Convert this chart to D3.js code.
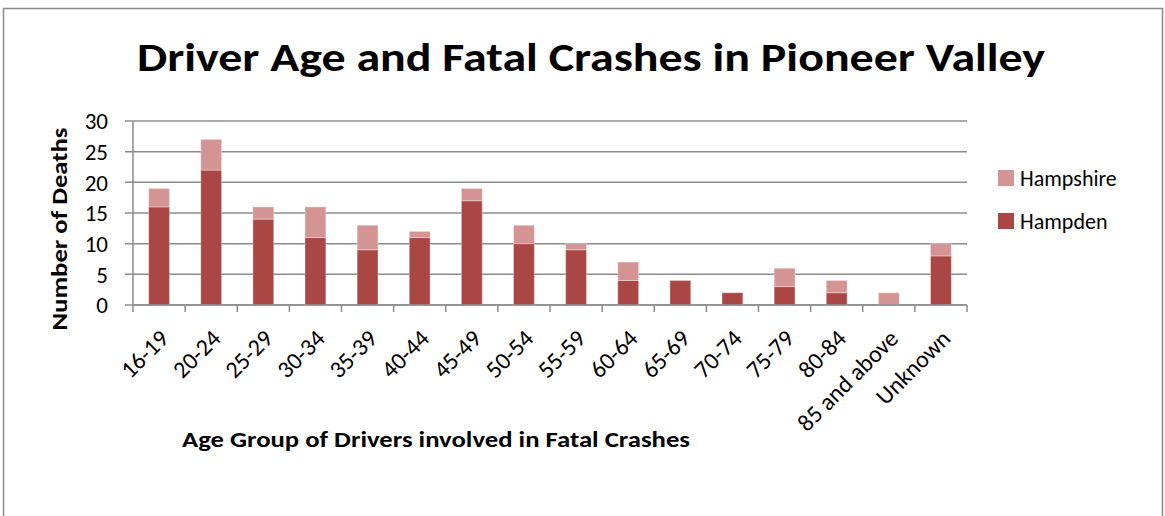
<!DOCTYPE html>
<html>
<head>
<meta charset="utf-8">
<script src="https://cdn.jsdelivr.net/npm/d3@7.9.0/dist/d3.min.js"></script>
<style>
  body { margin: 0; background: #fff; }
  svg text { font-family: Calibri, Carlito, Lato, "Open Sans", sans-serif; fill: #000; }
</style>
</head>
<body>
<svg id="chart" width="1165" height="516"></svg>
<script>
// Age groups and deaths per county
const ageGroups = ["16-19", "20-24", "25-29", "30-34", "35-39", "40-44", "45-49", "50-54",
  "55-59", "60-64", "65-69", "70-74", "75-79", "80-84", "85 and above", "Unknown"];
const hampden   = [16, 22, 14, 11, 9, 11, 17, 10, 9, 4, 4, 2, 3, 2, 0, 8];
const hampshire = [3, 5, 2, 5, 4, 1, 2, 3, 1, 3, 0, 0, 3, 2, 2, 2];
const seriesNames = ["Hampden", "Hampshire"];
const yTicks = [0, 5, 10, 15, 20, 25, 30];

const colors = { Hampden: "#AA4644", Hampshire: "#D49494" };

const svg = d3.select("#chart");

// outer frame
svg.append("rect")
  .attr("x", 3.5).attr("y", 8.5)
  .attr("width", 1159).attr("height", 520)
  .attr("fill", "none").attr("stroke", "#8a8a8a").attr("stroke-width", 1.5);

const plot = { left: 133, right: 967, top: 121, bottom: 305 };

const x = d3.scaleBand()
  .domain(ageGroups)
  .range([plot.left, plot.right])
  .paddingInner(0.6)
  .paddingOuter(0.3);

const y = d3.scaleLinear().domain([0, 30]).range([plot.bottom, plot.top]);

// gridlines
svg.append("g")
  .selectAll("line")
  .data(yTicks)
  .join("line")
  .attr("x1", plot.left - 8).attr("x2", plot.right)
  .attr("y1", d => y(d)).attr("y2", d => y(d))
  .attr("stroke", "#8c8c8c").attr("stroke-width", 1.5);

// stacked data
const rows = ageGroups.map((g, i) => ({ group: g, Hampden: hampden[i], Hampshire: hampshire[i] }));
const stacked = d3.stack().keys(seriesNames)(rows);

svg.append("g")
  .selectAll("g")
  .data(stacked)
  .join("g")
  .attr("fill", d => colors[d.key])
  .selectAll("rect")
  .data(d => d)
  .join("rect")
  .attr("x", d => x(d.data.group))
  .attr("width", x.bandwidth())
  .attr("y", d => y(d[1]))
  .attr("height", d => y(d[0]) - y(d[1]))
  .attr("stroke", "#ffffff").attr("stroke-opacity", 0.35).attr("stroke-width", 1);

// y axis line
svg.append("line")
  .attr("x1", plot.left).attr("x2", plot.left)
  .attr("y1", plot.top).attr("y2", plot.bottom)
  .attr("stroke", "#8c8c8c").attr("stroke-width", 1.5);

// x axis
const xAxis = d3.axisBottom(x).tickSize(0).tickFormat("");
svg.append("g")
  .attr("transform", `translate(0,${plot.bottom})`)
  .call(xAxis)
  .call(g => g.select(".domain").attr("stroke", "#8c8c8c").attr("stroke-width", 1.5)
    .attr("d", `M${plot.left},0H${plot.right}`));

// x tick marks at band boundaries
const step = x.step();
const boundaries = d3.range(ageGroups.length + 1).map(i => plot.left + i * step);
svg.append("g")
  .selectAll("line")
  .data(boundaries)
  .join("line")
  .attr("x1", d => d).attr("x2", d => d)
  .attr("y1", plot.bottom).attr("y2", plot.bottom + 7)
  .attr("stroke", "#8c8c8c").attr("stroke-width", 1.5);

// y tick labels
svg.append("g")
  .selectAll("text")
  .data(yTicks)
  .join("text")
  .attr("x", 108).attr("y", d => y(d))
  .attr("dy", "0.36em")
  .attr("text-anchor", "end")
  .attr("font-size", 23)
  .text(d => d);

// x tick labels
svg.append("g")
  .selectAll("text")
  .data(ageGroups)
  .join("text")
  .attr("transform", d => `translate(${x(d) + x.bandwidth() / 2 + 11},${plot.bottom + 35}) rotate(-45)`)
  .attr("text-anchor", "end")
  .attr("font-size", 24)
  .text(d => d);

// title
svg.append("text")
  .attr("x", 591).attr("y", 71)
  .attr("text-anchor", "middle")
  .attr("font-size", 41).attr("font-weight", "bold")
  .attr("textLength", 908).attr("lengthAdjust", "spacingAndGlyphs")
  .text("Driver Age and Fatal Crashes in Pioneer Valley");

// y axis title
svg.append("text")
  .attr("transform", "translate(67,229) rotate(-90)")
  .attr("text-anchor", "middle")
  .attr("font-size", 23).attr("font-weight", "bold")
  .attr("textLength", 203).attr("lengthAdjust", "spacingAndGlyphs")
  .text("Number of Deaths");

// x axis title
svg.append("text")
  .attr("x", 436).attr("y", 447)
  .attr("text-anchor", "middle")
  .attr("font-size", 23).attr("font-weight", "bold")
  .attr("textLength", 508).attr("lengthAdjust", "spacingAndGlyphs")
  .text("Age Group of Drivers involved in Fatal Crashes");

// legend (Hampshire on top)
const legendItems = ["Hampshire", "Hampden"];
const legend = svg.append("g")
  .selectAll("g")
  .data(legendItems)
  .join("g")
  .attr("transform", (d, i) => `translate(998,${170 + i * 43})`);
legend.append("rect")
  .attr("width", 16).attr("height", 16)
  .attr("fill", d => colors[d]);
legend.append("text")
  .attr("x", 22).attr("y", 8).attr("dy", "0.36em")
  .attr("font-size", 22)
  .text(d => d);
</script>
</body>
</html>
